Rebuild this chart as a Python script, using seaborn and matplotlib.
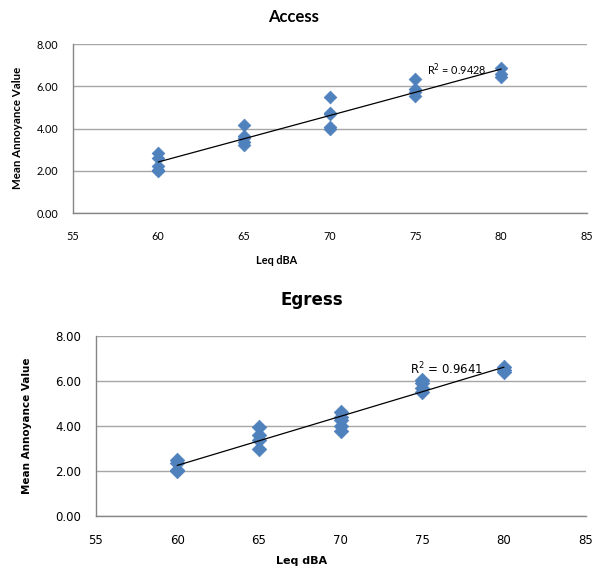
import numpy as np
import pandas as pd
import matplotlib
matplotlib.use("Agg")
import matplotlib.pyplot as plt
import seaborn as sns

# Access survey: mean annoyance per site at each noise level
access_leq = [60, 60, 60, 60, 60,
              65, 65, 65, 65, 65,
              70, 70, 70, 70, 70,
              75, 75, 75, 75,
              80, 80, 80]
access_annoy = [2.83, 2.59, 2.23, 1.99, 2.05,
                4.18, 3.65, 3.54, 3.35, 3.22,
                5.51, 4.75, 4.68, 4.06, 3.97,
                6.35, 5.86, 5.75, 5.55,
                6.88, 6.57, 6.46]
access_r2 = "0.9428"

# Egress survey
egress_leq = [60, 60, 60, 60,
              65, 65, 65, 65,
              70, 70, 70, 70, 70,
              75, 75, 75, 75,
              80, 80, 80]
egress_annoy = [2.48, 2.33, 2.05, 1.97,
                3.93, 3.59, 3.36, 2.95,
                4.60, 4.40, 4.25, 3.99, 3.78,
                6.03, 5.88, 5.66, 5.48,
                6.60, 6.48, 6.37]
egress_r2 = "0.9641"

x_ticks = [55, 60, 65, 70, 75, 80, 85]
y_ticks = [0, 2, 4, 6, 8]

sns.set_style("white")
plt.rcParams["text.color"] = "black"
plt.rcParams["axes.labelcolor"] = "black"
BLUE = "#4F81BD"
GRID = "#A6A6A6"
AXIS = "#868686"

fig = plt.figure(figsize=(6.03, 5.69), dpi=100)


def draw_panel(ax, leq, annoy, r2, font, tick_size, r2_size, r2_xy, marker_size):
    df = pd.DataFrame({"Leq": leq, "Annoy": annoy})
    sns.scatterplot(data=df, x="Leq", y="Annoy", marker="D", s=marker_size,
                    color=BLUE, edgecolor=BLUE, linewidth=0.5, ax=ax, zorder=3)
    sns.regplot(data=df, x="Leq", y="Annoy", scatter=False, ci=None, ax=ax,
                line_kws={"color": "black", "lw": 0.9, "zorder": 4})
    ax.set_xlim(55, 85)
    ax.set_ylim(0, 8)
    ax.set_xticks(x_ticks)
    ax.set_yticks(y_ticks)
    ax.set_xticklabels([str(v) for v in x_ticks], fontfamily=font, fontsize=tick_size)
    ax.set_yticklabels([f"{v:.2f}" for v in y_ticks], fontfamily=font, fontsize=tick_size)
    ax.set_xlabel("")
    ax.set_ylabel("")
    ax.yaxis.grid(True, color=GRID, lw=1.0)
    ax.set_axisbelow(True)
    for side in ("top", "right"):
        ax.spines[side].set_visible(False)
    for side in ("left", "bottom"):
        ax.spines[side].set_color(AXIS)
        ax.spines[side].set_linewidth(1.0)
    ax.tick_params(axis="both", which="major", direction="out", length=4,
                   width=1.0, color=AXIS, labelcolor="black")
    ax.tick_params(axis="x", pad=9)
    ax.tick_params(axis="y", pad=6)
    ax.text(r2_xy[0], r2_xy[1], "R$^2$ = " + r2, fontfamily=font, fontsize=r2_size,
            ha="left", va="center", zorder=5, color="black")


# Access panel
ax1 = fig.add_axes([72.5 / 603, 1 - 213 / 569, 514.5 / 603, 169 / 569])
draw_panel(ax1, access_leq, access_annoy, access_r2, "Lato", 7.8, 7.8,
           (75.67, 6.8), 42)
fig.text(294 / 603, 1 - 17 / 569, "Access", fontfamily="Lato", fontweight="bold",
         fontsize=12, ha="center", va="center")
fig.text(277 / 603, 1 - 261 / 569, "Leq dBA", fontfamily="Lato", fontweight="bold",
         fontsize=7.8, ha="center", va="center")
fig.text(18 / 603, 1 - 128 / 569, "Mean Annoyance Value", fontfamily="Lato",
         fontweight="bold", fontsize=8.3, rotation=90, ha="center", va="center")

# Egress panel
ax2 = fig.add_axes([95.5 / 603, 1 - 515.7 / 569, 490.2 / 603, 180 / 569])
draw_panel(ax2, egress_leq, egress_annoy, egress_r2, "DejaVu Sans", 8.5, 8.5,
           (74.25, 6.5), 55)
fig.text(312 / 603, 1 - 300 / 569, "Egress", fontfamily="DejaVu Sans",
         fontweight="bold", fontsize=12, ha="center", va="center")
fig.text(302 / 603, 1 - 561 / 569, "Leq dBA", fontfamily="DejaVu Sans",
         fontweight="bold", fontsize=8, ha="center", va="center")
fig.text(27 / 603, 1 - 426 / 569, "Mean Annoyance Value", fontfamily="DejaVu Sans",
         fontweight="bold", fontsize=7.5, rotation=90, ha="center", va="center")

fig.savefig("out.png", dpi=100)
